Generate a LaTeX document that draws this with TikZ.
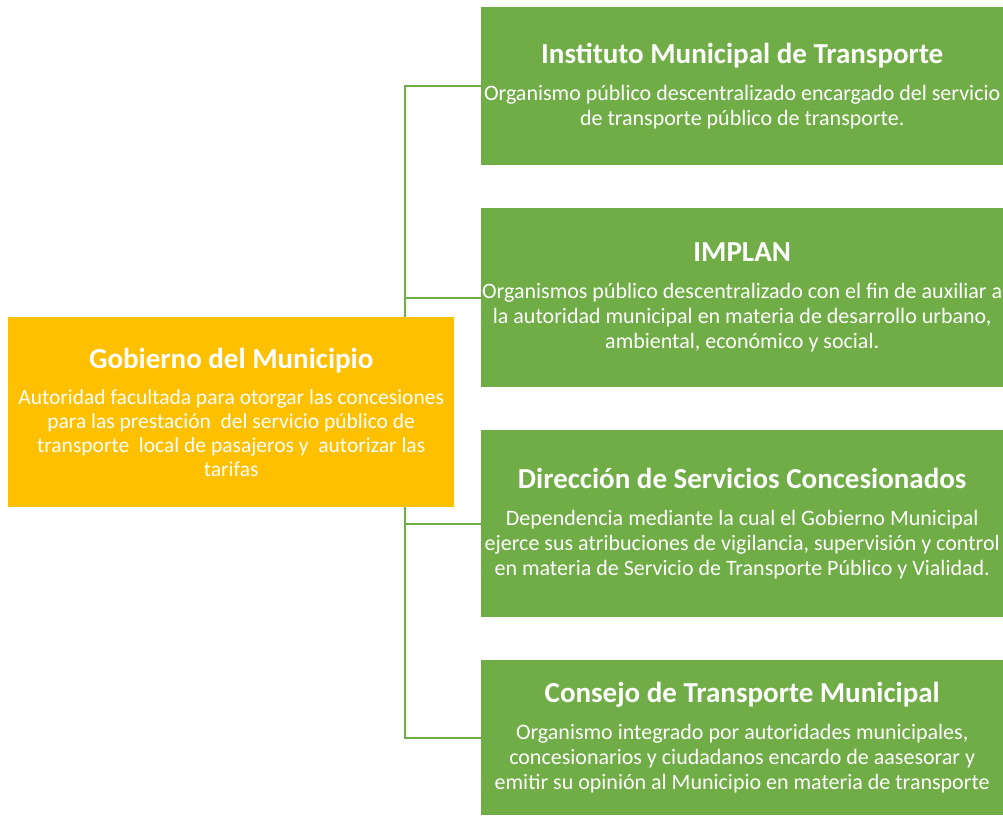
\documentclass[tikz,border=0pt]{standalone}
\usepackage{fontspec}
\setmainfont{Carlito}
\usetikzlibrary{positioning}
\definecolor{boxgreen}{HTML}{70AD47}
\definecolor{boxgold}{HTML}{FFC000}
\newcommand{\unittitle}[1]{{\fontsize{29}{34}\selectfont\bfseries #1}}
\begin{document}
\begin{tikzpicture}[x=1pt,y=-1pt,
  unit/.style={fill=boxgreen, text=white, align=center, inner sep=0pt,
    minimum width=522pt, anchor=north west,
    font=\fontsize{22}{25}\selectfont},
  govbox/.style={fill=boxgold, text=white, align=center, inner sep=0pt,
    minimum width=446pt, minimum height=190pt, anchor=north west,
    font=\fontsize{21.5}{24}\selectfont},
  link/.style={draw=boxgreen, line width=2pt}]
\useasboundingbox (0,0) rectangle (1003,815);

% Gobierno del Municipio
\node[govbox] (gob) at (8,317) {\unittitle{Gobierno del Municipio}\\[12pt]
  Autoridad facultada para otorgar las concesiones\\
  para las prestación~ del servicio público de\\
  transporte~ local de pasajeros y~ autorizar las\\
  tarifas};

% Dependent bodies
\node[unit, minimum height=158pt] (inst) at (481,7) {\unittitle{Instituto Municipal de Transporte}\\[12pt]
  Organismo público descentralizado encargado del servicio\\
  de transporte público de transporte.};
\node[unit, minimum height=179pt] (implan) at (481,208) {\unittitle{IMPLAN}\\[12pt]
  Organismos público descentralizado con el fin de auxiliar a\\
  la autoridad municipal en materia de desarrollo urbano,\\
  ambiental, económico y social.};
\node[unit, minimum height=187pt] (dsc) at (481,430) {\unittitle{Dirección de Servicios Concesionados}\\[12pt]
  Dependencia mediante la cual el Gobierno Municipal\\
  ejerce sus atribuciones de vigilancia, supervisión y control\\
  en materia de Servicio de Transporte Público y Vialidad.};
\node[unit, minimum height=155pt] (consejo) at (481,660) {\unittitle{Consejo de Transporte Municipal}\\[12pt]
  Organismo integrado por autoridades municipales,\\
  concesionarios y ciudadanos encardo de aasesorar y\\
  emitir su opinión al Municipio en materia de transporte};

% Connectors
\coordinate (trunk) at (405,0);
\draw[link] (gob.north -| trunk) |- (inst.west);
\draw[link] (gob.north -| trunk) |- (implan.west);
\draw[link] (gob.south -| trunk) |- (dsc.west);
\draw[link] (gob.south -| trunk) |- (consejo.west);
\end{tikzpicture}
\end{document}
